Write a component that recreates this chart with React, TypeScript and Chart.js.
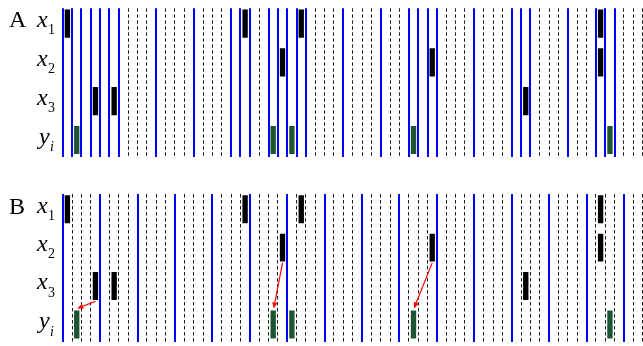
import React, { useEffect, useRef } from "react";
import { Chart, registerables } from "chart.js";

Chart.register(...registerables);

// ---- data ----
const gridIntervals = 62; // grid lines 0..62
// rows: y_i = 0, x3 = 1, x2 = 2, x1 = 3
const rowMain = ["x", "x", "x", "y"];
const rowSub = ["1", "2", "3", "i"];
const rowValue = [3, 2, 1, 0];
const x1Events = [0, 19, 25, 57];
const x2Events = [23, 39, 57];
const x3Events = [3, 5, 49];
const yEvents = [1, 22, 24, 37, 58];
const blueLinesA = [0, 1, 2, 3, 4, 5, 6, 10, 14, 18, 19, 20, 22, 23, 24, 25, 26, 30, 34, 37, 38, 39, 40, 44, 48, 49, 50, 54, 57, 58, 59];
const blueLinesB = [0, 4, 8, 12, 16, 20, 24, 28, 32, 36, 40, 44, 48, 52, 56, 60];
const arrowFrom = [3, 23, 39];
const arrowFromRow = [1, 2, 2];
const arrowTo = [1, 22, 37];

const HALF = 0.355;
const SERIF = "'Liberation Serif', 'Times New Roman', serif";
const BLUE = "#0000ff";
const DASH = "#1a1a1a";
const GREEN = "#1d5530";

function blackData() {
  const out: any[] = [];
  x1Events.forEach((i) => out.push({ x: i + 0.5, y: [3 - HALF, 3 + HALF] }));
  x2Events.forEach((i) => out.push({ x: i + 0.5, y: [2 - HALF, 2 + HALF] }));
  x3Events.forEach((i) => out.push({ x: i + 0.5, y: [1 - HALF, 1 + HALF] }));
  return out;
}
function greenData() {
  return yEvents.map((i) => ({ x: i + 0.5, y: [0 - HALF, 0 + HALF] }));
}

const arrowPlugin = {
  id: "arrows",
  afterDatasetsDraw(chart: any, _args: any, opts: any) {
    if (!opts || !opts.enabled) return;
    const xs = chart.scales.x;
    const ys = chart.scales.y;
    const ctx = chart.ctx;
    ctx.save();
    ctx.strokeStyle = "#ff0000";
    ctx.fillStyle = "#ff0000";
    ctx.lineWidth = 1.2;
    for (let k = 0; k < arrowFrom.length; k++) {
      const sx = xs.getPixelForValue(arrowFrom[k] + 0.5);
      const sy = ys.getPixelForValue(arrowFromRow[k] - HALF) + 1.6;
      const tx = xs.getPixelForValue(arrowTo[k] + 0.5) + 0.5;
      const ty = ys.getPixelForValue(0 + HALF) - 2.5;
      const ang = Math.atan2(ty - sy, tx - sx);
      const hl = 6;
      const hw = 2.6;
      const bx = tx - hl * Math.cos(ang);
      const by = ty - hl * Math.sin(ang);
      ctx.beginPath();
      ctx.moveTo(sx, sy);
      ctx.lineTo(bx, by);
      ctx.stroke();
      ctx.beginPath();
      ctx.moveTo(tx, ty);
      ctx.lineTo(bx + hw * Math.sin(ang), by - hw * Math.cos(ang));
      ctx.lineTo(bx - hw * Math.sin(ang), by + hw * Math.cos(ang));
      ctx.closePath();
      ctx.fill();
    }
    ctx.restore();
  },
};

function makeConfig(blue: number[], padTop: number, padBottom: number, arrows: boolean): any {
  const blueSet = new Set(blue);
  const isBlue = (c: any) => c && c.tick && blueSet.has(c.tick.value);
  return {
    type: "bar",
    data: {
      datasets: [
        { data: blackData(), backgroundColor: "#000000", borderWidth: 0, barThickness: 4.7, grouped: false },
        { data: greenData(), backgroundColor: GREEN, borderWidth: 0, barThickness: 4.7, grouped: false },
      ],
    },
    plugins: [arrowPlugin],
    options: {
      animation: false,
      responsive: true,
      maintainAspectRatio: false,
      layout: { padding: { left: 62.7, right: 0.3, top: padTop, bottom: padBottom } },
      plugins: {
        legend: { display: false },
        tooltip: { enabled: false },
        arrows: { enabled: arrows },
      },
      scales: {
        x: {
          type: "linear",
          min: 0,
          max: gridIntervals,
          offset: false,
          afterBuildTicks: (s: any) => {
            const t: any[] = [];
            for (let k = 0; k <= gridIntervals; k++) t.push({ value: k });
            s.ticks = t;
          },
          ticks: { display: false, autoSkip: false },
          grid: {
            offset: false,
            drawTicks: false,
            color: (c: any) => (isBlue(c) ? BLUE : DASH),
            lineWidth: (c: any) => (isBlue(c) ? 2 : 1),
          },
          border: { display: false, dash: (c: any) => (isBlue(c) ? [] : [3.5, 2.5]) },
        },
        y: { type: "linear", min: -0.446, max: 3.394, display: false },
      },
    },
  };
}

function Panel({ top, height, blue, padTop, padBottom, arrows }: any) {
  const ref = useRef<HTMLCanvasElement | null>(null);
  useEffect(() => {
    if (!ref.current) return;
    const chart = new Chart(ref.current, makeConfig(blue, padTop, padBottom, arrows));
    return () => chart.destroy();
  }, []);
  return (
    <div style={{ position: "absolute", left: 0, top, width: 643, height }}>
      <canvas ref={ref} />
    </div>
  );
}

function Txt({ text, left, baseline, size, italic }: any) {
  return (
    <div
      style={{
        position: "absolute",
        left,
        top: baseline - 0.8375 * size,
        fontSize: size,
        lineHeight: `${size}px`,
        fontFamily: SERIF,
        fontStyle: italic ? "italic" : "normal",
        whiteSpace: "nowrap",
        color: "#000",
      }}
    >
      {text}
    </div>
  );
}

function RowLabels({ centers }: { centers: number[] }) {
  return (
    <>
      {rowMain.map((m, r) => {
        const isY = m === "y";
        const base = centers[r] + (isY ? 4 : 3.5);
        return (
          <React.Fragment key={r}>
            <Txt text={m} left={isY ? 39 : 37} baseline={base} size={24} italic />
            <Txt text={rowSub[r]} left={isY ? 50 : 48} baseline={base + 8} size={14} italic={isY} />
          </React.Fragment>
        );
      })}
    </>
  );
}

export default function App() {
  // row centers in px (layout only)
  const centersA = rowValue.map((v) => 140 - v * 38.8);
  const centersB = rowValue.map((v) => 324.5 - v * 38.46);
  return (
    <div style={{ position: "fixed", left: 0, top: 0, width: 643, height: 346, background: "#fff", overflow: "hidden" }}>
      <Panel top={0} height={170} blue={blueLinesA} padTop={8.3} padBottom={12.7} arrows={false} />
      <Panel top={170} height={176} blue={blueLinesB} padTop={24} padBottom={4.3} arrows={true} />
      <Txt text="A" left={9} baseline={27} size={24} />
      <Txt text="B" left={9} baseline={214} size={24} />
      <RowLabels centers={centersA} />
      <RowLabels centers={centersB} />
    </div>
  );
}
